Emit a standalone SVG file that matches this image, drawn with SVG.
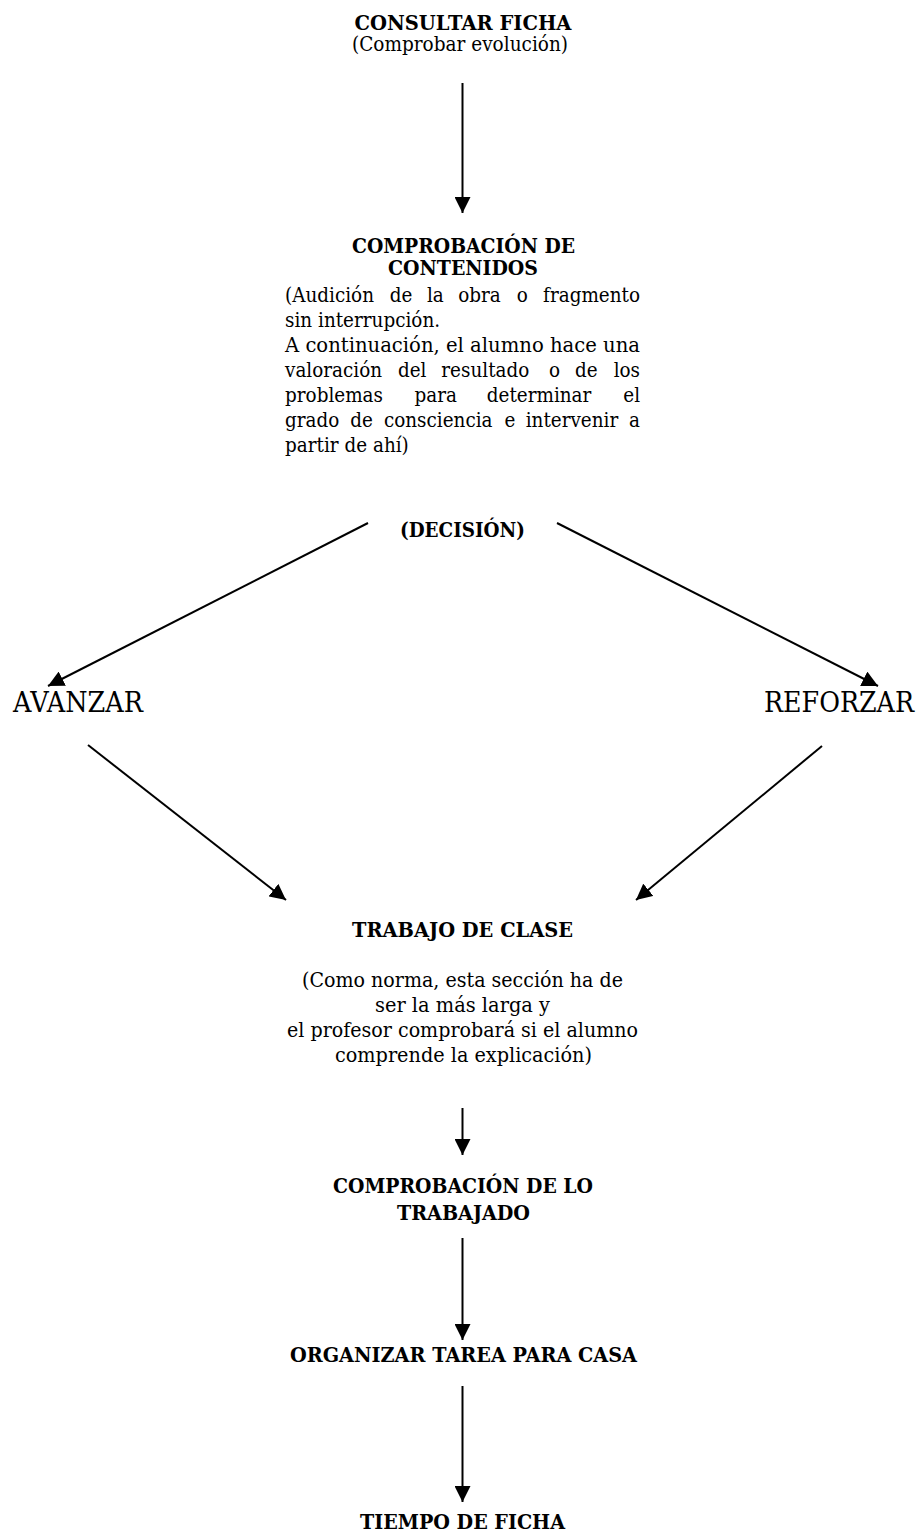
<svg xmlns="http://www.w3.org/2000/svg" width="924" height="1532" viewBox="0 0 924 1532">
<style>
text{font-family:"DejaVu Serif","Liberation Serif",serif;fill:#000}
.h{font-size:20.5px;font-weight:bold;text-anchor:middle}
.b{font-size:20px}
.e{text-anchor:end}
.c{font-size:20px;text-anchor:middle}
.big{font-size:27px}
.con line{stroke:#000;stroke-width:2;marker-end:url(#ah)}
</style>
<defs>
<marker id="ah" viewBox="0 0 16 16" refX="16" refY="8" markerWidth="16" markerHeight="16" orient="auto" markerUnits="userSpaceOnUse">
<path d="M0,0 L16,8 L0,16 z" fill="#000"/>
</marker>
</defs>
<rect width="924" height="1532" fill="#fff"/>
<g id="connectors" class="con">
<line x1="462.5" y1="83" x2="462.5" y2="213"/>
<line x1="368" y1="523" x2="48" y2="686"/>
<line x1="557" y1="523" x2="878" y2="686"/>
<line x1="88" y1="745" x2="286" y2="900"/>
<line x1="822" y1="746" x2="636" y2="900"/>
<line x1="462.5" y1="1108" x2="462.5" y2="1155"/>
<line x1="462.5" y1="1238" x2="462.5" y2="1340"/>
<line x1="462.5" y1="1386" x2="462.5" y2="1502"/>
</g>
<g id="consultar">
<text class="h" x="463" y="30" textLength="217" lengthAdjust="spacingAndGlyphs">CONSULTAR FICHA</text>
<text class="c" x="460" y="51" textLength="216" lengthAdjust="spacingAndGlyphs">(Comprobar evolución)</text>
</g>
<g id="comprobacion">
<text class="h" x="463.5" y="253" textLength="223" lengthAdjust="spacingAndGlyphs">COMPROBACIÓN DE</text>
<text class="h" x="463" y="275" textLength="150" lengthAdjust="spacingAndGlyphs">CONTENIDOS</text>
<text class="b" x="285" y="352" textLength="355" lengthAdjust="spacingAndGlyphs">A continuación, el alumno hace una</text>
<g transform="translate(285 0) scale(0.92 1)">
<text class="b" y="302"><tspan x="0">(Audición</tspan><tspan x="113.8">de</tspan><tspan x="154.3">la</tspan><tspan x="188.2">obra</tspan><tspan x="252">o</tspan><tspan class="e" x="385.9">fragmento</tspan></text>
<text class="b" x="0" y="327">sin interrupción.</text>
<text class="b" y="377"><tspan x="0">valoración</tspan><tspan x="122.7">del</tspan><tspan x="169.9">resultado</tspan><tspan x="287.1">o</tspan><tspan x="315.3">de</tspan><tspan class="e" x="385.9">los</tspan></text>
<text class="b" y="402"><tspan x="0">problemas</tspan><tspan x="140.8">para</tspan><tspan x="219.3">determinar</tspan><tspan class="e" x="385.9">el</tspan></text>
<text class="b" y="427"><tspan x="0">grado</tspan><tspan x="71">de</tspan><tspan x="107.5">consciencia</tspan><tspan x="238.5">e</tspan><tspan x="261.6">intervenir</tspan><tspan class="e" x="385.9">a</tspan></text>
<text class="b" x="0" y="452">partir de ahí)</text>
</g>
</g>
<g id="decision">
<text class="h" x="462.5" y="537" textLength="125" lengthAdjust="spacingAndGlyphs">(DECISIÓN)</text>
</g>
<g id="avanzar">
<text class="big" x="13" y="712" textLength="130" lengthAdjust="spacingAndGlyphs">AVANZAR</text>
</g>
<g id="reforzar">
<text class="big" x="764" y="712" textLength="150" lengthAdjust="spacingAndGlyphs">REFORZAR</text>
</g>
<g id="trabajo">
<text class="h" x="462.5" y="937" textLength="221" lengthAdjust="spacingAndGlyphs">TRABAJO DE CLASE</text>
<text class="c" x="462.5" y="987" textLength="321" lengthAdjust="spacingAndGlyphs">(Como norma, esta sección ha de</text>
<text class="c" x="462.5" y="1012" textLength="175" lengthAdjust="spacingAndGlyphs">ser la más larga y</text>
<text class="c" x="462.5" y="1037" textLength="351" lengthAdjust="spacingAndGlyphs">el profesor comprobará si el alumno</text>
<text class="c" x="463.5" y="1062" textLength="257" lengthAdjust="spacingAndGlyphs">comprende la explicación)</text>
</g>
<g id="comprobacion-lo">
<text class="h" x="463" y="1193" textLength="260" lengthAdjust="spacingAndGlyphs">COMPROBACIÓN DE LO</text>
<text class="h" x="463.5" y="1220" textLength="133" lengthAdjust="spacingAndGlyphs">TRABAJADO</text>
</g>
<g id="organizar">
<text class="h" x="463.5" y="1362" textLength="347" lengthAdjust="spacingAndGlyphs">ORGANIZAR TAREA PARA CASA</text>
</g>
<g id="tiempo">
<text class="h" x="462.5" y="1529" textLength="205" lengthAdjust="spacingAndGlyphs">TIEMPO DE FICHA</text>
</g>
</svg>
